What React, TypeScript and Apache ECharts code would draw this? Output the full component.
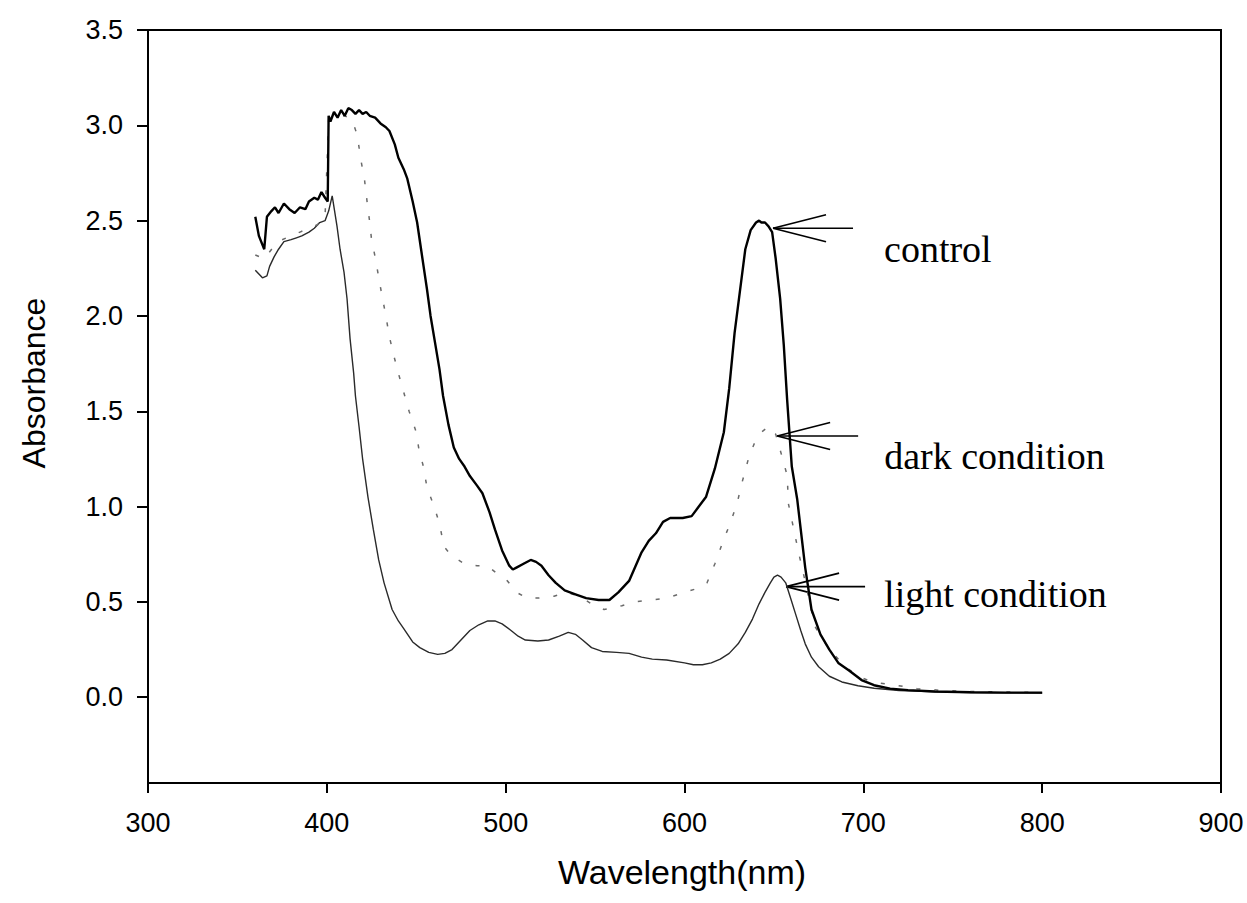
import React, { useEffect, useRef } from "react";
import * as echarts from "echarts";

// ---- Data ----
const controlWl = [360, 362, 365, 366.5, 369, 371, 373, 376, 379, 382, 385, 388, 390, 393, 395, 397, 399, 400.5,
  401, 402, 404, 406, 408, 410, 412, 414, 416, 418, 420, 422, 424, 427, 430, 433, 435, 438, 440, 443, 445, 448,
  450.5, 453, 456, 458, 460.5, 463, 465, 468, 471, 474, 477, 480, 484, 487, 491, 494, 498, 502, 504, 506, 510,
  514, 517, 520, 524, 528, 533, 539, 545, 552, 558, 563, 569, 576, 580, 584, 588, 592, 599, 604, 608, 612, 617,
  622, 625, 628, 631, 634, 637, 640, 641.7, 643, 645, 647, 649, 651, 653.5, 655.5, 657.4, 660, 663, 667.5, 671,
  676, 681, 686, 692, 699, 706, 715, 725, 740, 760, 780, 800];
const controlAbs = [2.52, 2.42, 2.35, 2.52, 2.55, 2.57, 2.54, 2.59, 2.56, 2.54, 2.57, 2.56, 2.6, 2.62, 2.61, 2.65, 2.62, 2.6,
  3.05, 3.02, 3.07, 3.04, 3.08, 3.05, 3.09, 3.08, 3.06, 3.08, 3.06, 3.07, 3.05, 3.04, 3.01, 2.99, 2.97, 2.9, 2.83, 2.77, 2.72, 2.6,
  2.49, 2.33, 2.14, 2.0, 1.86, 1.72, 1.58, 1.43, 1.31, 1.25, 1.21, 1.16, 1.11, 1.07, 0.97, 0.88, 0.77, 0.69, 0.67, 0.68, 0.7,
  0.72, 0.71, 0.69, 0.64, 0.6, 0.56, 0.54, 0.52, 0.51, 0.51, 0.55, 0.61, 0.76, 0.82, 0.86, 0.92, 0.94, 0.94, 0.95, 1.0, 1.05, 1.2,
  1.39, 1.62, 1.91, 2.13, 2.35, 2.45, 2.49, 2.5, 2.49, 2.49, 2.47, 2.44, 2.3, 2.09, 1.85, 1.56, 1.21, 1.04, 0.68, 0.46,
  0.33, 0.25, 0.18, 0.14, 0.09, 0.063, 0.045, 0.037, 0.03, 0.026, 0.024, 0.024];

const darkWl = [360, 365, 370, 375, 380, 385, 390, 395, 399, 401, 405, 410, 414, 417, 419, 421, 422.5, 424, 425, 427, 430,
  433, 435, 437.5, 440, 443, 446, 450, 451.5, 454, 456, 460, 463, 465.5, 470, 477, 484, 489.6, 495, 501, 506, 512,
  518, 527, 534, 541, 548, 555, 565, 572, 581, 590, 600, 607, 612.6, 617, 622, 625.5, 629.5, 632, 636, 639, 643,
  647, 651, 654.6, 657.5, 658, 662, 664, 666, 673, 681, 690, 697, 705, 718, 730, 745, 760, 780, 800];
const darkAbs = [2.32, 2.3, 2.36, 2.4, 2.42, 2.44, 2.46, 2.48, 2.52, 3.03, 3.05, 3.05, 3.03, 2.95, 2.82, 2.72, 2.6, 2.49, 2.4, 2.31, 2.15,
  2.0, 1.89, 1.79, 1.7, 1.6, 1.5, 1.39, 1.3, 1.21, 1.1, 1.0, 0.91, 0.79, 0.74, 0.7, 0.69, 0.69, 0.65, 0.61, 0.55, 0.52,
  0.52, 0.53, 0.55, 0.53, 0.49, 0.46, 0.48, 0.5, 0.51, 0.52, 0.55, 0.57, 0.6, 0.7, 0.83, 0.91, 1.02, 1.12, 1.26, 1.33, 1.39,
  1.42, 1.38, 1.26, 1.16, 1.02, 0.84, 0.75, 0.67, 0.37, 0.25, 0.16, 0.11, 0.08, 0.063, 0.045, 0.035, 0.03, 0.027, 0.025];

const lightWl = [360, 362, 364, 366.5, 368, 370.5, 373, 376, 380, 383, 386, 390, 393, 396, 399, 401, 403, 405.7, 407.4,
  409.6, 411.3, 413, 415, 416, 418, 420, 423, 426, 429, 432, 436.5, 440, 443, 448, 452, 457, 462, 466, 470, 475, 480,
  485, 490, 494, 498, 503, 507, 511, 518, 524, 530, 535, 539, 543, 548, 554, 562, 569, 576, 582, 590, 600, 605, 610,
  615, 620, 625, 630, 634, 638, 641.7, 645, 648, 650, 652, 654, 656.6, 659, 662, 665, 667.5, 671, 675, 681, 688, 697,
  706, 720, 740, 760, 780, 800];
const lightAbs = [2.24, 2.22, 2.2, 2.21, 2.26, 2.31, 2.35, 2.39, 2.4, 2.41, 2.42, 2.44, 2.46, 2.49, 2.5, 2.55, 2.63, 2.47, 2.35,
  2.23, 2.09, 1.88, 1.7, 1.58, 1.42, 1.25, 1.05, 0.88, 0.72, 0.6, 0.46, 0.4, 0.36, 0.29, 0.26, 0.235, 0.225, 0.23, 0.25, 0.3, 0.35,
  0.38, 0.4, 0.4, 0.385, 0.35, 0.32, 0.3, 0.295, 0.3, 0.32, 0.34, 0.33, 0.3, 0.26, 0.24, 0.235, 0.23, 0.21, 0.2, 0.195, 0.18, 0.17, 0.17,
  0.18, 0.2, 0.23, 0.28, 0.34, 0.41, 0.49, 0.55, 0.6, 0.63, 0.64, 0.63, 0.6, 0.53, 0.44, 0.35, 0.28, 0.21, 0.16, 0.11, 0.08, 0.06,
  0.047, 0.035, 0.028, 0.025, 0.023, 0.022];

const yTicks = [0, 0.5, 1.0, 1.5, 2.0, 2.5, 3.0, 3.5];

const annotationLabels = ["control", "dark condition", "light condition"];
const annotationTipWl = [649.5, 651.8, 656.8];
const annotationTipAbs = [2.46, 1.37, 0.58];

// ---- Layout constants ----
const arrowTail = [80, 81, 79];
const textDx = [111, 107, 98];
const textDy = [21, 20, 7];

const zip = (xs: number[], ys: number[]) => xs.map((x, i) => [x, ys[i]]);

export default function App() {
  const ref = useRef<HTMLDivElement>(null);
  useEffect(() => {
    if (!ref.current) return;
    const chart = echarts.init(ref.current, undefined, { renderer: "svg" });
    const axisFont = { fontFamily: "Liberation Sans, Arial, sans-serif", fontSize: 27, color: "#000" };
    chart.setOption({
      animation: false,
      backgroundColor: "#fff",
      grid: { left: 148, right: 26, top: 30, bottom: 120, show: true, borderColor: "#000", borderWidth: 2 },
      xAxis: {
        type: "value", min: 300, max: 900, interval: 100,
        axisLine: { show: true, onZero: false, lineStyle: { color: "#000", width: 2 } },
        axisTick: { show: true, inside: false, length: 10, lineStyle: { color: "#000", width: 2 } },
        axisLabel: { ...axisFont, margin: 26 },
        splitLine: { show: false },
      },
      yAxis: {
        type: "value", min: -0.45, max: 3.5,
        axisLine: { show: true, onZero: false, lineStyle: { color: "#000", width: 2 } },
        axisTick: { show: true, inside: false, length: 11, customValues: yTicks, lineStyle: { color: "#000", width: 2 } },
        axisLabel: { ...axisFont, margin: 25, customValues: yTicks, formatter: (v: number) => v.toFixed(1) },
        splitLine: { show: false },
      },
      series: [
        {
          name: "light condition", type: "line", showSymbol: false, data: zip(lightWl, lightAbs),
          lineStyle: { color: "#2a2a2a", width: 1.4 }, z: 2,
        },
        {
          name: "dark condition", type: "line", showSymbol: false, data: zip(darkWl, darkAbs),
          lineStyle: { color: "#6a6a6a", width: 1.5, type: [4, 14] }, z: 3,
        },
        {
          name: "control", type: "line", showSymbol: false, data: zip(controlWl, controlAbs),
          lineStyle: { color: "#000", width: 2.4 }, z: 4,
        },
      ],
    });

    const graphics: any[] = [
      {
        type: "text", x: 34, y: 383, rotation: Math.PI / 2,
        style: { text: "Absorbance", fontSize: 32, fontFamily: "Liberation Sans, Arial, sans-serif", fill: "#000", textAlign: "center", textVerticalAlign: "middle" },
      },
      {
        type: "text", x: 682, y: 872,
        style: { text: "Wavelength(nm)", fontSize: 34, fontFamily: "Liberation Sans, Arial, sans-serif", fill: "#000", textAlign: "center", textVerticalAlign: "middle" },
      },
    ];
    annotationLabels.forEach((label, i) => {
      const p = chart.convertToPixel({ gridIndex: 0 }, [annotationTipWl[i], annotationTipAbs[i]]) as number[];
      const [tx, ty] = p;
      const lineStyle = { stroke: "#000", lineWidth: 1.6 };
      graphics.push(
        { type: "line", shape: { x1: tx, y1: ty, x2: tx + arrowTail[i], y2: ty }, style: lineStyle },
        { type: "line", shape: { x1: tx, y1: ty, x2: tx + 53, y2: ty - 13.5 }, style: lineStyle },
        { type: "line", shape: { x1: tx, y1: ty, x2: tx + 53, y2: ty + 13.5 }, style: lineStyle },
        {
          type: "text", x: tx + textDx[i], y: ty + textDy[i],
          style: { text: label, fontSize: 38, fontFamily: "Liberation Serif, Times New Roman, serif", fill: "#000", textAlign: "left", textVerticalAlign: "middle" },
        }
      );
    });
    chart.setOption({ graphic: graphics });

    return () => chart.dispose();
  }, []);
  return <div ref={ref} style={{ width: 1247, height: 903, position: "absolute", left: 0, top: 0 }} />;
}
